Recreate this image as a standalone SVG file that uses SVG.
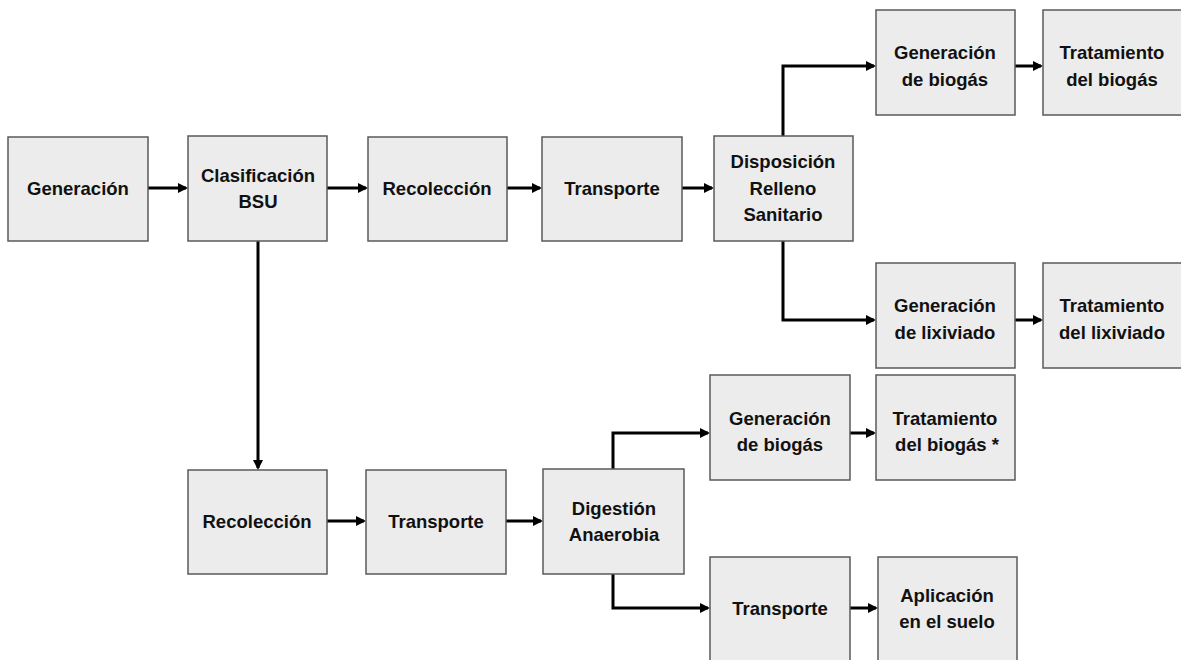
<svg xmlns="http://www.w3.org/2000/svg" width="1181" height="660" viewBox="0 0 1181 660">
<defs>
<style>
.box{fill:#ececec;stroke:#5a5a5a;stroke-width:1.5}
.t{font-family:"Liberation Sans",Arial,sans-serif;font-weight:bold;font-size:18.5px;fill:#111;text-anchor:middle}
.c{fill:none;stroke:#000;stroke-width:3;marker-end:url(#ah)}
</style>
<marker id="ah" markerWidth="12" markerHeight="12" refX="8" refY="6" orient="auto" markerUnits="userSpaceOnUse">
<path d="M0,1 L10,6 L0,11 Z" fill="#000"/>
</marker>
</defs>
<rect width="1181" height="660" fill="#fff"/>
<g id="connectors">
<path class="c" d="M148,188 H186"/>
<path class="c" d="M327,188 H366"/>
<path class="c" d="M507,188 H540"/>
<path class="c" d="M682,188 H712"/>
<path class="c" d="M783,136 V66 H874"/>
<path class="c" d="M783,241 V320 H874"/>
<path class="c" d="M1015,66 H1041"/>
<path class="c" d="M1015,320 H1041"/>
<path class="c" d="M258,241 V468"/>
<path class="c" d="M327,521 H364"/>
<path class="c" d="M506,521 H541"/>
<path class="c" d="M613,469 V433 H708"/>
<path class="c" d="M613,574 V608 H708"/>
<path class="c" d="M850,433 H874"/>
<path class="c" d="M850,608 H876"/>
</g>
<g id="n1"><rect class="box" x="8" y="137" width="140" height="104"/><text class="t" x="78" y="195">Generación</text></g>
<g id="n2"><rect class="box" x="188" y="136" width="139" height="105"/><text class="t" x="258" y="182">Clasificación</text><text class="t" x="258" y="208">BSU</text></g>
<g id="n3"><rect class="box" x="368" y="137" width="139" height="104"/><text class="t" x="437" y="195">Recolección</text></g>
<g id="n4"><rect class="box" x="542" y="137" width="140" height="104"/><text class="t" x="612" y="195">Transporte</text></g>
<g id="n5"><rect class="box" x="714" y="136" width="139" height="105"/><text class="t" x="783" y="168">Disposición</text><text class="t" x="783" y="195">Relleno</text><text class="t" x="783" y="221">Sanitario</text></g>
<g id="n6"><rect class="box" x="876" y="10" width="139" height="105"/><text class="t" x="945" y="59">Generación</text><text class="t" x="945" y="86">de biogás</text></g>
<g id="n7"><rect class="box" x="1043" y="10" width="139" height="105"/><text class="t" x="1112" y="59">Tratamiento</text><text class="t" x="1112" y="86">del biogás</text></g>
<g id="n8"><rect class="box" x="876" y="263" width="139" height="105"/><text class="t" x="945" y="312">Generación</text><text class="t" x="945" y="339">de lixiviado</text></g>
<g id="n9"><rect class="box" x="1043" y="263" width="139" height="105"/><text class="t" x="1112" y="312">Tratamiento</text><text class="t" x="1112" y="339">del lixiviado</text></g>
<g id="n10"><rect class="box" x="188" y="470" width="139" height="104"/><text class="t" x="257" y="528">Recolección</text></g>
<g id="n11"><rect class="box" x="366" y="470" width="140" height="104"/><text class="t" x="436" y="528">Transporte</text></g>
<g id="n12"><rect class="box" x="543" y="469" width="141" height="105"/><text class="t" x="614" y="515">Digestión</text><text class="t" x="614" y="541">Anaerobia</text></g>
<g id="n13"><rect class="box" x="710" y="375" width="140" height="105"/><text class="t" x="780" y="425">Generación</text><text class="t" x="780" y="451">de biogás</text></g>
<g id="n14"><rect class="box" x="876" y="375" width="139" height="105"/><text class="t" x="945" y="425">Tratamiento</text><text class="t" x="947" y="451">del biogás *</text></g>
<g id="n15"><rect class="box" x="710" y="557" width="140" height="110"/><text class="t" x="780" y="615">Transporte</text></g>
<g id="n16"><rect class="box" x="878" y="557" width="139" height="110"/><text class="t" x="947" y="602">Aplicación</text><text class="t" x="947" y="628">en el suelo</text></g>
</svg>
